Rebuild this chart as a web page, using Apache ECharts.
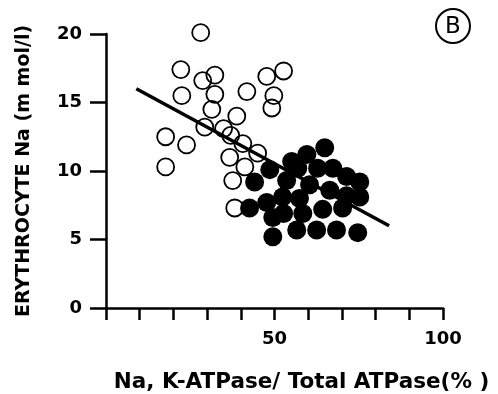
<!DOCTYPE html>
<html><head><meta charset="utf-8">
<script src="https://cdn.jsdelivr.net/npm/echarts@6/dist/echarts.min.js"></script>
<style>html,body{margin:0;padding:0;background:#fff}#c{width:498px;height:394px}</style>
</head><body><div id="c"></div>
<script>
var openPoints = [
  [28.1,20.1],[22.2,17.4],[32.3,17.0],[28.7,16.6],[22.5,15.5],[32.3,15.6],[31.4,14.5],
  [29.3,13.2],[34.9,13.1],[37.0,12.6],[40.6,12.0],[38.8,14.0],[41.8,15.8],[47.7,16.9],
  [52.7,17.3],[49.8,15.5],[49.2,14.6],[17.7,12.5],[23.9,11.9],[17.7,10.3],[36.7,11.0],
  [45.0,11.3],[41.2,10.3],[37.6,9.3],[38.2,7.3]
];
var filledPoints = [
  [44.1,9.2],[48.6,10.1],[55.1,10.7],[59.6,11.2],[64.9,11.7],[67.3,10.2],[71.4,9.6],
  [75.3,9.2],[75.3,8.1],[52.4,8.1],[47.7,7.7],[42.6,7.3],[49.5,6.6],[49.5,5.2],
  [56.6,5.7],[62.5,5.7],[68.4,5.7],[74.7,5.5],[58.4,6.9],[64.3,7.2],[70.2,7.3],
  [53.6,9.3],[60.4,9.0],[66.4,8.6],[57.4,8.0],[52.7,6.9],[62.8,10.2],[71.4,8.2],[56.9,10.2]
];
var regressionLine = [[9,16],[84,6]];
var xTickLabels = {50:'50',100:'100'};
var yTickLabels = ['0','5','10','15','20'];
var xTitle = 'Na, K-ATPase/ Total ATPase(% )';
var yTitle = 'ERYTHROCYTE Na (m mol/l)';

var chart = echarts.init(document.getElementById('c'));
var font = 'DejaVu Sans';
chart.setOption({
  animation:false,
  grid:{left:106,right:55,top:34,bottom:86,outerBoundsMode:'none',containLabel:false},
  xAxis:{type:'value',min:0,max:100,interval:10,
    axisLine:{lineStyle:{color:'#000',width:2.5}},
    axisTick:{inside:false,length:12,lineStyle:{color:'#000',width:2.5},
      interval:function(i,v){return i>0;}},
    axisLabel:{margin:22,color:'#000',fontFamily:font,fontWeight:'bold',fontSize:18,
      formatter:function(v){return xTickLabels[v]||'';}},
    splitLine:{show:false},
    name:xTitle,nameLocation:'middle',nameGap:63,
    nameTextStyle:{color:'#000',fontFamily:font,fontWeight:'bold',fontSize:21.5,padding:[0,0,0,54]}
  },
  yAxis:{type:'value',min:0,max:20,interval:5,
    axisLine:{onZero:false,lineStyle:{color:'#000',width:2.5}},
    axisTick:{length:16,lineStyle:{color:'#000',width:2.5}},
    axisLabel:{margin:24,color:'#000',fontFamily:font,fontWeight:'bold',fontSize:18,
      formatter:function(v){return yTickLabels[v/5];}},
    splitLine:{show:false},
    name:yTitle,nameLocation:'middle',nameGap:54,
    nameTextStyle:{color:'#000',fontFamily:font,fontWeight:'bold',fontSize:19,padding:[0,0,18,0]}
  },
  graphic:[
    {type:'circle',shape:{cx:453,cy:26,r:17},style:{fill:'none',stroke:'#000',lineWidth:2}},
    {type:'text',x:453,y:27,style:{text:'B',fontFamily:font,fontSize:23,fill:'#000',align:'center',verticalAlign:'middle'}}
  ],
  series:[
    {type:'scatter',data:openPoints,symbolSize:17,clip:false,itemStyle:{color:'rgba(0,0,0,0)',borderColor:'#000',borderWidth:1.8,opacity:1},z:2},
    {type:'line',data:regressionLine,symbol:'none',lineStyle:{color:'#000',width:3.5},z:3},
    {type:'scatter',data:filledPoints,symbolSize:19,clip:false,itemStyle:{color:'#000',opacity:1},z:4}
  ]
});
</script></body></html>
